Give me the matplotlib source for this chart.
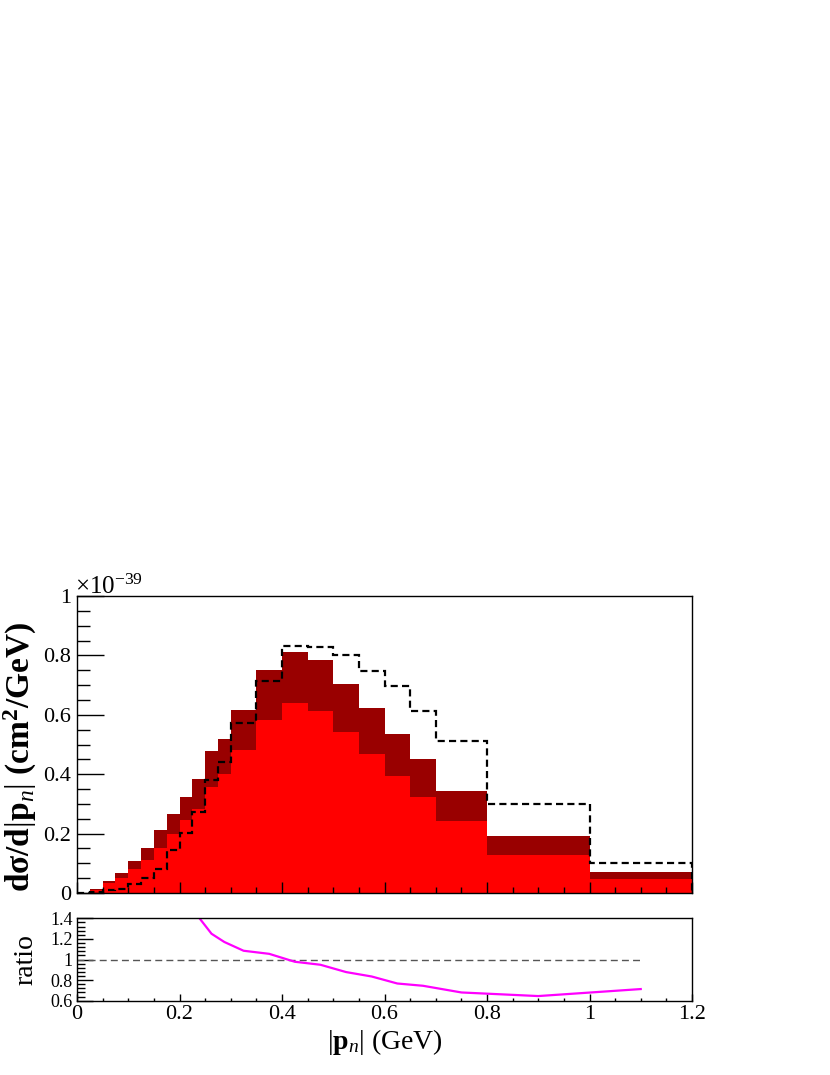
import matplotlib
matplotlib.use('Agg')
import matplotlib.pyplot as plt
from matplotlib.ticker import MultipleLocator, FormatStrFormatter

plt.rcParams['font.family'] = 'Liberation Serif'
plt.rcParams['mathtext.fontset'] = 'custom'
plt.rcParams['mathtext.rm'] = 'Liberation Serif'
plt.rcParams['mathtext.it'] = 'Liberation Serif:italic'
plt.rcParams['mathtext.bf'] = 'Liberation Serif:bold'

# Bin edges of |p_n| (GeV)
edges = [0, 0.025, 0.05, 0.075, 0.1, 0.125, 0.15, 0.175, 0.2, 0.225, 0.25, 0.275,
         0.3, 0.35, 0.4, 0.45, 0.5, 0.55, 0.6, 0.65, 0.7, 0.8, 1.0, 1.2]

# Cross sections in units of 1e-39 cm^2/GeV
total = [0, 0.015, 0.042, 0.066, 0.108, 0.150, 0.211, 0.267, 0.322, 0.384, 0.478, 0.519,
         0.616, 0.750, 0.812, 0.784, 0.703, 0.623, 0.535, 0.452, 0.345, 0.191, 0.071]
component = [0, 0.011, 0.032, 0.050, 0.082, 0.112, 0.153, 0.200, 0.247, 0.283, 0.358, 0.399,
             0.480, 0.584, 0.641, 0.613, 0.541, 0.467, 0.395, 0.322, 0.242, 0.129, 0.046]
reference = [0, 0.004, 0.009, 0.012, 0.030, 0.050, 0.081, 0.146, 0.202, 0.273, 0.382, 0.440,
             0.571, 0.715, 0.833, 0.827, 0.800, 0.746, 0.698, 0.612, 0.513, 0.299, 0.100]

# Ratio panel
ratio_x = [0.2125, 0.2375, 0.2625, 0.2875, 0.325, 0.375, 0.425, 0.475, 0.525, 0.575,
           0.625, 0.675, 0.75, 0.9, 1.1]
ratio_y = [1.60, 1.41, 1.25, 1.17, 1.085, 1.055, 0.978, 0.949, 0.878, 0.835,
           0.767, 0.745, 0.68, 0.645, 0.713]
unity_x = [0, 1.1]
unity_y = [1, 1]

W, H = 830, 1075
fig = plt.figure(figsize=(W / 100, H / 100), dpi=100)

ax = fig.add_axes([77 / W, (H - 893) / H, 615 / W, 297 / H])
rax = fig.add_axes([77 / W, (H - 1000.7) / H, 615 / W, 82.4 / H])

# Main panel
ax.stairs(total, edges, fill=True, color='#990000', lw=0)
ax.stairs(component, edges, fill=True, color='#ff0000', lw=0)
ax.stairs(reference, edges, color='black', lw=1.6, linestyle=(0, (3.2, 1.9)))

ax.set_xlim(0, 1.2)
ax.set_ylim(0, 1)
ax.xaxis.set_major_locator(MultipleLocator(0.2))
ax.xaxis.set_minor_locator(MultipleLocator(0.05))
ax.yaxis.set_major_locator(MultipleLocator(0.2))
ax.yaxis.set_minor_locator(MultipleLocator(0.05))
ax.yaxis.set_major_formatter(FormatStrFormatter('%g'))
ax.tick_params(axis='both', which='both', direction='in', top=False, right=False,
               width=1.0, labelsize=16, pad=4)
ax.tick_params(axis='x', which='major', length=8, labelbottom=False)
ax.tick_params(axis='x', which='minor', length=4.3)
ax.tick_params(axis='y', which='major', length=19.4)
ax.tick_params(axis='y', which='minor', length=9.4)
for s in ax.spines.values():
    s.set_linewidth(1.0)

ax.text(-0.004, 1.008, r'$\times10^{-39}$', transform=ax.transAxes,
        fontsize=18, ha='left', va='baseline')
ax.set_ylabel('d\u03c3/d' + r'$|\mathbf{p}_{n}|$' + ' (cm' + r'$^{\mathbf{2}}$' + '/GeV)',
              fontsize=24, fontweight='bold')
ax.yaxis.set_label_coords(-0.062, 0.458)

# Ratio panel
rax.plot(unity_x, unity_y, color='#555555', lw=1.0, linestyle=(0, (5, 3)))
rax.plot(ratio_x, ratio_y, color='#ff00ff', lw=1.6)
rax.set_xlim(0, 1.2)
rax.set_ylim(0.6, 1.4)
rax.xaxis.set_major_locator(MultipleLocator(0.2))
rax.xaxis.set_minor_locator(MultipleLocator(0.05))
rax.yaxis.set_major_locator(MultipleLocator(0.2))
rax.yaxis.set_minor_locator(MultipleLocator(0.04))
rax.xaxis.set_major_formatter(FormatStrFormatter('%g'))
rax.yaxis.set_major_formatter(FormatStrFormatter('%g'))
rax.tick_params(axis='both', which='both', direction='in', top=False, right=False, width=1.0)
rax.tick_params(axis='x', which='major', length=5, labelsize=16, pad=3)
rax.tick_params(axis='x', which='minor', length=2.5)
rax.tick_params(axis='y', which='major', length=11.3, labelsize=13, pad=3)
rax.tick_params(axis='y', which='minor', length=5.8)
for s in rax.spines.values():
    s.set_linewidth(1.0)

rax.set_xlabel(r'$|\mathbf{p}_{n}|$ (GeV)', fontsize=20, labelpad=2)
rax.set_ylabel('ratio', fontsize=20)
rax.yaxis.set_label_coords(-0.062, 0.5)

fig.savefig('out.png', dpi=100)
